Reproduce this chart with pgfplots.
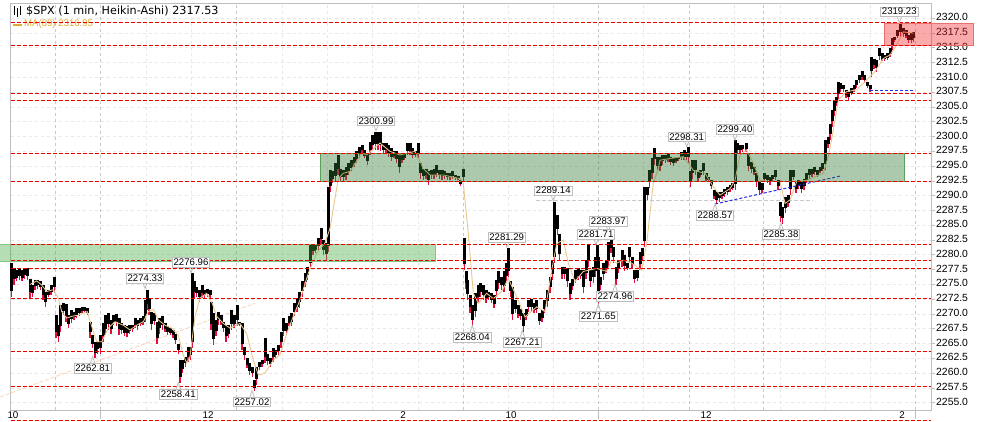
\documentclass[border=0pt]{standalone}
\usepackage{pgfplots}
\usepackage{pgfplotstable}
\pgfplotsset{compat=1.18}
\usepackage{fontspec}
\setmainfont{Liberation Sans}
\newfontfamily\titlefont{DejaVu Sans}
\definecolor{lvl}{RGB}{235,0,0}
\definecolor{wick}{RGB}{225,15,60}
\definecolor{ma}{RGB}{232,200,140}
\definecolor{maLabel}{RGB}{225,170,50}
\definecolor{gridL}{RGB}{232,232,232}
\definecolor{gridM}{RGB}{200,200,200}
\definecolor{frameC}{RGB}{190,190,190}
\pgfplotstableread{
x hi lo
11.7 2278.6 2272.9
14 2277.7 2274.9
16.7 2277.4 2275.5
19.3 2277.6 2275.8
22 2277.4 2275.5
24.7 2277.7 2276.0
27.3 2277.7 2275.8
30 2276.0 2272.7
32.3 2274.9 2272.9
35 2275.8 2274.1
37.7 2275.8 2274.3
40.3 2275.5 2274.1
43 2274.9 2272.4
45.7 2273.8 2271.2
48.3 2274.1 2272.8
51 2274.9 2273.2
54.3 2276.3 2273.5
56 2269.8 2265.9
58.3 2268.1 2265.3
60.7 2271.5 2267.0
63.3 2271.8 2269.8
66 2271.7 2268.7
68.7 2269.8 2267.6
71.3 2270.7 2268.4
74 2270.4 2269.0
76.7 2271.0 2269.3
79.3 2271.0 2269.6
82 2271.2 2270.1
84.7 2271.2 2270.1
87.3 2271.0 2269.8
90 2268.7 2265.9
92.3 2266.4 2264.2
95 2265.3 2262.5
97.7 2265.3 2263.3
100.3 2266.4 2263.3
103 2268.4 2265.3
105.7 2269.8 2266.4
108.3 2270.1 2267.3
111 2269.0 2266.7
113.7 2269.8 2268.1
116.3 2270.0 2267.9
119 2269.3 2266.4
121.7 2268.4 2266.7
124.3 2268.1 2266.2
127 2267.9 2266.1
129.7 2268.1 2266.6
132.3 2268.1 2267.0
135 2269.3 2267.6
137.7 2269.0 2267.3
140.3 2269.3 2267.9
143 2269.6 2268.1
145.7 2272.4 2268.7
147 2274.1 2270.7
149 2272.7 2269.8
151.7 2270.4 2267.3
154.3 2270.1 2268.1
157 2268.7 2265.0
159.7 2269.3 2266.7
162.3 2269.6 2267.3
165 2268.4 2267.0
167.7 2267.9 2266.4
170.3 2267.6 2266.4
173 2267.3 2265.9
175.7 2266.7 2265.0
178.3 2265.0 2263.3
180 2262.2 2258.3
182.7 2262.2 2260.0
185.3 2262.8 2261.1
188 2264.5 2261.9
190.7 2264.5 2262.2
192.3 2276.9 2264.2
194.3 2275.5 2272.7
196.7 2274.6 2272.9
199.3 2274.1 2272.1
202 2274.9 2272.7
204.7 2274.1 2272.7
207.3 2274.3 2272.9
210 2274.1 2272.7
211 2272.1 2267.3
213.3 2270.1 2264.8
216 2269.0 2266.2
218.3 2270.4 2268.1
221 2269.8 2268.1
223.3 2268.7 2267.0
226 2268.1 2265.3
228.7 2268.1 2265.9
231.3 2270.7 2267.3
234 2269.8 2267.6
237.3 2271.5 2267.9
239.3 2268.7 2267.9
242 2268.4 2263.9
244.3 2264.5 2262.2
247 2262.5 2260.8
249.7 2261.7 2259.7
252.3 2261.1 2259.4
254.3 2258.8 2256.9
256.7 2261.1 2258.0
259.3 2261.9 2260.5
262 2262.2 2261.1
265 2265.9 2261.7
267.7 2263.3 2261.4
270.3 2262.5 2261.1
273 2264.2 2261.9
275.7 2263.9 2262.5
278.3 2264.8 2263.1
281 2267.0 2264.2
283.7 2269.3 2266.2
286.3 2268.4 2266.4
289 2269.6 2267.9
291.7 2270.1 2267.9
294.3 2271.8 2269.6
297 2272.7 2270.4
299.7 2273.8 2271.0
302.3 2275.5 2272.9
305 2276.9 2274.6
307.7 2278.0 2275.8
310.3 2281.7 2277.7
313 2281.7 2280.0
315.7 2281.7 2280.3
318.3 2282.8 2280.8
321 2284.5 2281.7
323.7 2282.5 2280.0
326.3 2282.0 2279.1
328.3 2291.5 2280.5
330 2294.4 2290.7
332.7 2294.1 2292.1
335.3 2295.5 2292.4
338 2296.9 2293.5
340.7 2294.6 2292.4
343.3 2294.4 2292.4
346 2294.9 2292.7
348.7 2295.5 2293.5
351.3 2296.0 2294.1
354 2296.6 2294.9
356.7 2297.5 2295.5
359.3 2298.3 2296.3
362 2298.6 2297.2
364.7 2297.7 2296.3
367.3 2297.2 2295.2
370 2299.1 2296.9
372.7 2300.3 2297.7
375.3 2300.8 2297.7
378 2300.8 2297.7
380.7 2300.8 2297.5
383.3 2298.9 2297.2
386 2298.9 2297.2
388.7 2298.6 2296.6
391.3 2298.0 2295.8
394 2297.5 2296.3
396.7 2297.5 2295.5
399.3 2297.2 2293.8
402 2296.9 2295.5
404.7 2297.2 2296.0
407.3 2298.9 2296.9
410 2298.9 2296.9
412.7 2298.0 2296.3
415.3 2297.5 2296.6
418 2298.9 2296.3
420.7 2295.5 2292.9
423.3 2294.6 2292.7
426 2294.6 2292.8
428.7 2294.1 2291.8
431.3 2294.4 2292.9
434 2294.6 2292.9
436.7 2295.2 2293.2
439.3 2294.4 2292.9
442 2294.4 2292.7
444.7 2294.1 2292.9
447.3 2293.9 2292.7
450 2293.8 2292.7
452.7 2294.1 2292.8
455.3 2293.5 2292.7
458 2293.3 2292.7
460.7 2292.7 2291.6
463.3 2294.6 2292.4
464.3 2282.8 2277.4
466 2277.2 2274.3
467.3 2275.7 2272.4
470 2273.2 2270.1
472.7 2271.5 2267.9
475.3 2273.5 2269.5
478 2274.9 2271.8
480.7 2275.2 2272.9
483.3 2274.9 2272.4
486 2274.1 2271.8
488.7 2273.8 2272.4
491.3 2273.5 2271.8
494 2273.2 2271.0
496.7 2275.7 2272.9
498.7 2277.2 2274.3
501.3 2276.3 2274.1
504 2277.2 2273.8
506 2278.6 2275.5
508.3 2281.1 2276.3
510.7 2275.5 2272.9
512.7 2274.6 2269.0
515.3 2272.4 2270.1
518 2271.5 2269.3
520.7 2270.9 2269.0
523.3 2270.1 2267.0
526 2270.9 2269.0
528.7 2272.4 2270.4
531.3 2272.6 2270.4
534 2271.8 2270.1
536.7 2272.4 2270.1
539.3 2270.1 2268.1
542 2270.7 2268.7
544.7 2272.4 2270.1
547.3 2274.1 2271.2
550 2276.3 2273.5
552.7 2279.1 2275.7
554.7 2289.0 2278.6
557.3 2286.7 2283.4
559.3 2283.6 2279.1
562 2278.0 2276.0
564.7 2278.0 2276.0
567.3 2277.7 2274.6
570 2275.2 2272.4
572.7 2276.0 2274.1
575.3 2277.4 2275.2
578 2277.7 2275.7
580.7 2277.4 2276.0
583.3 2277.4 2273.5
586 2279.1 2276.0
588 2281.7 2278.0
590.7 2277.4 2274.6
593.3 2278.0 2275.2
595.3 2279.7 2276.3
597 2281.7 2278.6
598.7 2279.7 2271.5
600.7 2276.3 2274.1
603.3 2278.6 2275.7
606 2279.1 2276.9
608.7 2282.2 2278.0
611 2282.8 2280.3
613.7 2281.4 2278.6
616 2278.0 2274.9
618.7 2279.1 2276.9
622 2280.8 2278.0
624.7 2280.0 2277.2
627.3 2278.6 2277.4
629.7 2281.4 2278.6
632 2279.7 2277.7
634.7 2277.4 2275.2
637.3 2277.4 2275.5
640 2280.5 2277.4
642.7 2281.1 2279.1
644.7 2291.5 2281.4
647.3 2291.5 2289.3
649.3 2294.4 2291.3
652 2296.3 2292.9
654.7 2298.0 2295.2
657.3 2296.6 2294.1
660 2296.6 2294.1
662.7 2296.9 2295.2
665.3 2296.9 2295.5
668 2297.0 2295.7
670.7 2296.6 2295.2
673.3 2296.3 2295.1
676 2296.6 2295.5
678.7 2296.6 2295.9
681.3 2297.4 2296.0
684 2297.7 2296.0
686.7 2297.4 2296.0
688.7 2298.3 2295.5
690.3 2294.1 2291.5
692.7 2296.0 2292.9
695.3 2296.0 2293.5
698 2294.1 2292.4
700.7 2294.3 2293.2
703.3 2295.5 2293.5
706 2293.8 2292.4
708.7 2293.2 2292.4
711.3 2292.6 2291.2
714 2290.9 2289.5
716.7 2290.7 2288.6
719.3 2290.7 2289.0
722 2290.7 2289.5
724.7 2291.2 2289.8
727.3 2291.5 2290.1
730 2291.8 2290.7
732.7 2292.1 2291.0
735.3 2299.4 2291.0
737.3 2298.9 2297.2
740 2298.6 2297.2
742.7 2298.6 2297.4
746 2298.9 2297.4
748.7 2297.2 2294.1
751.3 2295.7 2293.8
754 2294.9 2293.5
756.7 2293.8 2291.5
759.3 2292.4 2290.1
762 2292.1 2290.4
764.7 2293.8 2292.4
767.3 2293.5 2292.1
770 2293.2 2291.8
772.7 2293.5 2292.4
775.3 2294.3 2292.6
778 2292.6 2291.0
780.7 2289.0 2285.6
782.7 2288.1 2285.3
785.3 2289.8 2287.0
788 2290.1 2288.1
790.7 2294.3 2290.1
793.3 2294.3 2292.6
796 2292.4 2290.4
798.7 2292.6 2291.2
801.3 2292.4 2290.5
804 2292.9 2291.0
806.7 2293.8 2292.1
809.3 2294.6 2292.9
812 2294.6 2293.2
814.7 2294.9 2293.5
817.3 2294.3 2293.2
820 2294.9 2293.8
822.7 2295.5 2294.1
825.3 2299.4 2294.3
828 2300.0 2298.0
830 2302.2 2299.4
832 2304.5 2301.7
834 2306.2 2303.4
836 2306.7 2305.1
838 2309.3 2306.2
840.7 2309.0 2307.6
843.3 2308.7 2307.6
846 2307.9 2306.5
848.7 2307.6 2306.2
851.3 2308.2 2307.0
854 2308.7 2307.6
856.7 2309.6 2308.2
859.3 2310.4 2309.0
862 2311.1 2309.6
864.7 2310.4 2309.0
867.3 2309.3 2308.2
870 2308.7 2307.6
871.3 2313.5 2310.1
874 2313.2 2311.5
876.7 2312.9 2311.0
879.3 2314.9 2312.9
882 2314.1 2312.7
884.7 2313.8 2312.7
887.3 2314.1 2312.9
890 2314.9 2313.5
892 2316.6 2314.6
894.7 2316.9 2316.0
897.3 2318.0 2316.6
900.7 2319.3 2316.9
903.3 2318.3 2316.9
906 2318.0 2316.6
908.7 2317.2 2315.8
911.3 2317.5 2315.8
913.3 2317.7 2316.0
}\prices
\pgfplotstableread{
x y
30 2275.0
36.7 2275.6
41.7 2274.9
46.7 2273.8
53.3 2274.1
58.3 2272.7
61.7 2270.4
66.7 2269.3
71.7 2269.6
78.3 2269.8
87.3 2270.4
91.7 2267.9
96.7 2265.3
101.7 2265.3
108.3 2267.6
115 2268.7
123.3 2268.1
130 2267.3
136.7 2268.1
143.3 2268.7
148.3 2270.4
153.3 2270.8
158.3 2269.0
165 2268.1
171.7 2267.6
178.3 2266.4
182.7 2263.3
186.7 2261.7
190 2262.8
195 2269.6
200 2272.7
206.7 2273.5
212.3 2271.8
216.7 2269.6
223.3 2268.4
230 2267.6
240 2268.4
246.7 2266.7
253.3 2262.2
258.3 2259.7
265 2260.0
273.3 2262.2
280 2263.1
286.7 2266.7
293.3 2269.6
300 2272.4
308.3 2276.9
316.7 2280.3
325 2282.0
330 2284.5
338.3 2292.9
343.3 2293.8
350 2294.1
361.7 2297.2
366.7 2296.9
380 2298.9
390 2297.5
400 2296.9
415 2297.5
423.3 2294.6
430 2293.5
443.3 2293.5
460 2292.9
463.3 2292.1
468.3 2283.6
473.3 2273.5
478.3 2271.8
486.7 2273.5
493.3 2272.6
501.7 2273.8
508.3 2276.0
516.7 2272.9
525 2269.5
536.7 2271.2
545 2270.4
551.7 2277.4
556.7 2281.9
563.3 2282.5
568.3 2278.6
575 2275.5
583.3 2277.2
596.7 2277.7
606.7 2277.2
611.7 2279.1
616.7 2278.6
623.3 2279.1
631.7 2278.6
641.7 2277.4
646.7 2281.9
653.3 2292.1
658.3 2294.6
660 2296.0
670 2296.3
683.3 2296.6
693.3 2294.3
705 2293.8
713.3 2291.5
720 2290.1
730 2291.2
735 2292.6
740 2296.9
746.7 2297.7
753.3 2295.5
760 2292.6
770 2292.4
780 2292.4
785 2288.7
790 2289.3
796.7 2292.4
806.7 2292.6
823.3 2293.8
828.3 2296.6
833.3 2301.1
838.3 2306.2
846.7 2307.6
856.7 2307.9
866.7 2309.6
875 2311.0
883.3 2313.2
890 2313.8
896.7 2315.5
903.3 2317.7
913.3 2317.5
}\maline
\newcommand{\callout}[3]{%
  \draw[frameC,line width=0.8pt] (axis cs:#1-4,#2) -- (axis cs:#1,#3) -- (axis cs:#1+4,#2);
  \node[fill=white,draw=frameC,line width=0.8pt,inner sep=1.3pt,font=\fontsize{9.6}{10}\selectfont] at (axis cs:#1,#2) {#3};}
\begin{document}
\begin{tikzpicture}
\begin{axis}[
  scale only axis, width=920.5pt, height=407.5pt,
  xmin=10.5, xmax=931, ymin=2253.68, ymax=2322.59,
  clip=false,
  axis line style={frameC,line width=0.9pt},
  xtick pos=bottom, ytick pos=right,
  tick align=outside,
  ytick={2255,2257.5,...,2320},
  yticklabel style={/pgf/number format/fixed,/pgf/number format/fixed zerofill,/pgf/number format/precision=1,/pgf/number format/1000 sep={},/pgf/number format/assume math mode=true,font=\fontsize{10.4}{11}\selectfont,inner sep=0pt,xshift=1pt,yshift=1pt,anchor=west},
  scaled y ticks=false,
  xtick={13,208,403,511,706,902},
  xticklabels={10,12,2,10,12,2},
  xticklabel style={font=\fontsize{9.8}{10}\selectfont,inner sep=0pt,yshift=2.8pt},
  major tick length=4pt,
  y tick style={frameC,line width=0.8pt},
  x tick style={draw=none},
  minor xtick={146,191.7,282,327.7,372.7,418,508,553,643,734,780,825.7,870.7},
  xminorgrids, ymajorgrids,
  minor x tick style={draw=none},
  minor grid style={gridL,line width=0.8pt,dash pattern=on 3pt off 3pt},
  major grid style={gridL,line width=0.8pt,dash pattern=on 3pt off 3pt},
]
% medium grid lines
\pgfplotsinvokeforeach{55,100.7,236.7,463.3,598,689.3,763,915.7}{
  \addplot[gridM,line width=0.8pt,dash pattern=on 3pt off 3pt,forget plot] coordinates {(#1,2253.68)(#1,2322.59)};
}
\addplot[frameC,line width=0.8pt,forget plot] coordinates {(100.7,2253.68)(100.7,2252.2)};
\addplot[frameC,line width=0.8pt,forget plot] coordinates {(598,2253.68)(598,2252.2)};
\addplot[frameC,line width=0.8pt,forget plot] coordinates {(915.7,2253.68)(915.7,2252.2)};
% trend and reference lines under the price
\addplot[color={rgb,255:red,250;green,215;blue,190},line width=0.9pt,dash pattern=on 4pt off 2pt] coordinates {(0,2255.97)(255,2271.81)};
\addplot[color=gridM,line width=0.9pt,dash pattern=on 4pt off 2pt] coordinates {(536,2289.14)(813,2289.14)};
% wicks
\addplot[draw=none,mark=none,error bars/.cd,y dir=both,y explicit,error mark=none,error bar style={wick,line width=1.4pt}]
  table[x=x,y=hi,y error plus expr=0,y error minus expr=\thisrow{hi}-\thisrow{lo}] {\prices};
% bodies
\addplot[draw=none,mark=none,error bars/.cd,y dir=both,y explicit,error mark=none,error bar style={black,line width=3pt}]
  table[x=x,y=hi,y error plus expr=0,y error minus expr={\thisrow{hi}-\thisrow{lo}-min(1.0,0.35*(\thisrow{hi}-\thisrow{lo}))}] {\prices};
% MA
\addplot[ma,line width=0.9pt] table[x=x,y=y] {\maline};
% blue trend
\addplot[color={rgb,255:red,40;green,40;blue,230},line width=1pt,dash pattern=on 3pt off 2pt] coordinates {(715,2288.6)(841.7,2293.38)};
\addplot[color={rgb,255:red,40;green,40;blue,230},line width=1pt,dash pattern=on 3pt off 2pt] coordinates {(870,2307.83)(915,2307.83)};
% zones
\addplot[fill={rgb,255:red,70;green,172;blue,70},fill opacity=0.4,draw={rgb,255:red,130;green,200;blue,130},line width=0.8pt] coordinates {(0,2278.84)(435,2278.84)(435,2281.78)(0,2281.78)};
\addplot[fill={rgb,255:red,50;green,120;blue,50},fill opacity=0.4,draw={rgb,255:red,90;green,160;blue,90},line width=0.8pt] coordinates {(320,2292.44)(904,2292.44)(904,2297.17)(320,2297.17)(320,2292.44)};
\addplot[fill={rgb,255:red,242;green,42;blue,42},fill opacity=0.4,draw={rgb,255:red,235;green,110;blue,110},line width=0.8pt] coordinates {(884.3,2315.48)(973.3,2315.48)(973.3,2319.12)(884.3,2319.12)(884.3,2315.48)};
% MA legend, then red levels above it
\addplot[maLabel,line width=1.6pt] coordinates {(13,2318.9)(22,2318.9)};
\node[anchor=west,inner sep=0pt,text=maLabel,font=\fontsize{9.6}{10}\selectfont] at (axis cs:24,2319.05) {MA(89) 2316.95};
\node[anchor=west,inner sep=0pt,font=\titlefont\fontsize{11.2}{12}\selectfont] at (axis cs:26,2321.15) {\$SPX (1 min, Heikin-Ashi) 2317.53};
\addplot[black,line width=1.5pt] coordinates {(14.5,2320.6)(14.5,2322)};
\addplot[black,line width=1.5pt] coordinates {(17.5,2320.3)(17.5,2321.7)};
\addplot[black,line width=1.5pt] coordinates {(20.5,2320.6)(20.5,2322)};
\pgfplotsinvokeforeach{2319.29,2315.4,2307.28,2306.1,2297.14,2292.4,2281.75,2279.08,2277.73,2272.65,2263.69,2257.77,2252.03}{
  \addplot[lvl,line width=1pt,dash pattern=on 4pt off 2pt,forget plot] coordinates {(10.5,#1)(931,#1)};
}
% callouts
\callout{899.3}{2321.12}{2319.23}
\callout{376}{2302.68}{2300.99}
\callout{686.7}{2299.98}{2298.31}
\callout{735}{2301.23}{2299.40}
\callout{553.3}{2290.85}{2289.14}
\callout{715}{2286.69}{2288.57}
\callout{781}{2283.48}{2285.38}
\callout{608.3}{2285.67}{2283.97}
\callout{596}{2283.48}{2281.71}
\callout{506.7}{2282.97}{2281.29}
\callout{615}{2272.99}{2274.96}
\callout{598.3}{2269.61}{2271.65}
\callout{472.3}{2266.06}{2268.04}
\callout{522.3}{2265.21}{2267.21}
\callout{191}{2278.74}{2276.96}
\callout{145}{2276.04}{2274.33}
\callout{92.7}{2260.82}{2262.81}
\callout{178.3}{2256.42}{2258.41}
\callout{252}{2255.12}{2257.02}
\end{axis}
\pgfresetboundingbox
\path[use as bounding box] (-10.5pt,-11.5pt) rectangle (971.5pt,410.5pt);
\end{tikzpicture}
\end{document}
